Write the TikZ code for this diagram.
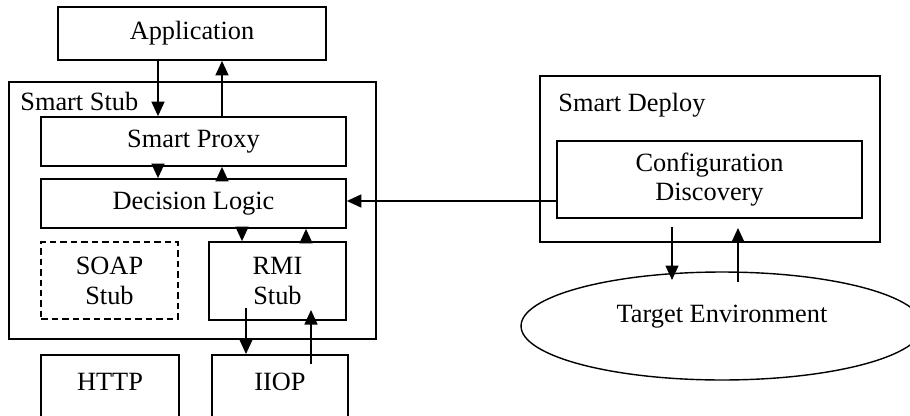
\documentclass[tikz,border=0pt]{standalone}
\usepackage{fontspec}
\setmainfont{Liberation Serif}
\usetikzlibrary{arrows.meta,shapes.geometric}
\tikzset{
  >={Triangle[length=2.9mm,width=2.6mm]},
  box/.style={draw,line width=1pt,inner sep=0pt,align=center,
    font=\fontsize{15}{17}\selectfont},
  dash box/.style={box,dash pattern=on 1.3mm off 0.8mm},
  cloud/.style={ellipse,draw,line width=0.8pt,inner sep=0pt,
    font=\fontsize{15}{17}\selectfont},
  tag/.style={anchor=base west,inner sep=0pt,font=\fontsize{15}{17}\selectfont},
  flow/.style={->,line width=0.9pt},
}
\begin{document}
\begin{tikzpicture}[x=0.02cm,y=-0.02cm]
  \useasboundingbox (0,0) rectangle (910,416);
  \clip (0,0) rectangle (910,416);
  % smart stub
  \node[box,minimum width=5.36cm,minimum height=1.06cm] (app) at (192,33.5) {Application};
  \node[box,minimum width=7.34cm,minimum height=5.14cm] (stub) at (192.5,210.5) {};
  \node[tag] (stubname) at (20,110) {Smart Stub};
  \node[box,minimum width=6.1cm,minimum height=0.98cm] (proxy) at (193.5,141.5) {Smart Proxy};
  \node[box,minimum width=6.1cm,minimum height=0.98cm] (logic) at (193.5,203.5) {Decision Logic};
  \node[dash box,minimum width=2.74cm,minimum height=1.54cm] (soap) at (109.5,280.5) {SOAP\\Stub};
  \node[box,minimum width=2.74cm,minimum height=1.56cm] (rmi) at (277.5,281) {RMI\\Stub};
  \node[box,minimum width=2.76cm,anchor=north,text height=0.72cm,text depth=0.9cm] (http) at (110,354) {HTTP};
  \node[box,minimum width=2.72cm,anchor=north,text height=0.72cm,text depth=0.9cm] (iiop) at (280,354) {IIOP};
  % smart deploy
  \node[box,minimum width=6.8cm,minimum height=3.32cm] (deploy) at (710,159) {};
  \node[tag] (deployname) at (558,111) {Smart Deploy};
  \node[box,minimum width=6.1cm,minimum height=1.54cm] (config) at (709.5,179.5) {Configuration\\Discovery};
  \node[cloud,minimum width=8.04cm,minimum height=2.16cm,text depth=0.5cm] (target) at (722,326) {Target Environment};
  \coordinate (rmiout) at (246,308);
  \coordinate (iiopout) at (311,364);
  \coordinate (rmiin) at (311,310);
  \coordinate (cfgout) at (672,227);
  \coordinate (cfgin) at (738,228);
  \coordinate (tgtin) at (672,280);
  \coordinate (tgtout) at (738,282);
  % connectors
  \draw[flow] (app.south -| 158,0) -- (proxy.north -| 158,0);
  \draw[flow] (proxy.north -| 222,0) -- (app.south -| 222,0);
  \draw[flow] (proxy.south -| 158,0) -- (logic.north -| 158,0);
  \draw[flow] (logic.north -| 222,0) -- (proxy.south -| 222,0);
  \draw[flow] (logic.south -| 242,0) -- (rmi.north -| 242,0);
  \draw[flow] (rmi.north -| 306,0) -- (logic.south -| 306,0);
  \draw[flow] (rmiout) -- (iiop.north -| rmiout);
  \draw[flow] (iiopout) -- (rmiin);
  \draw[flow] (config.west |- 0,201) -- (logic.east |- 0,201);
  \draw[flow] (cfgout) -- (tgtin);
  \draw[flow] (tgtout) -- (cfgin);
\end{tikzpicture}
\end{document}
